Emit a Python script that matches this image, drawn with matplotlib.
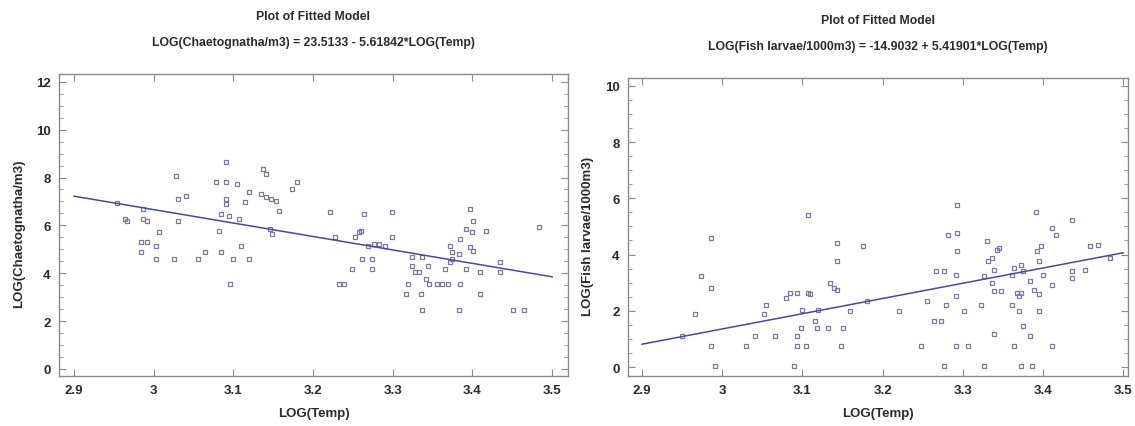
import numpy as np
import matplotlib
matplotlib.use("Agg")
import matplotlib.pyplot as plt
from matplotlib.ticker import MultipleLocator

plt.rcParams['font.family'] = ['Liberation Sans Narrow', 'Liberation Sans', 'DejaVu Sans']

# Chaetognatha vs temperature (log scale both)
chaet_x = [2.954, 2.964, 2.966, 2.987, 2.987, 2.991, 2.984, 2.984, 2.991, 3.003,
           3.007, 3.003, 3.028, 3.030, 3.041, 3.030, 3.025, 3.055, 3.064, 3.078,
           3.091, 3.091, 3.105, 3.091, 3.091, 3.085, 3.094, 3.107, 3.082, 3.085,
           3.100, 3.096, 3.110, 3.119, 3.114, 3.119, 3.137, 3.141, 3.135, 3.141,
           3.147, 3.153, 3.146, 3.148, 3.157, 3.173, 3.180, 3.221, 3.228, 3.233,
           3.239, 3.249, 3.253, 3.258, 3.260, 3.264, 3.262, 3.274, 3.274, 3.269,
           3.276, 3.283, 3.290, 3.299, 3.299, 3.317, 3.319, 3.324, 3.324, 3.328,
           3.333, 3.335, 3.337, 3.337, 3.344, 3.342, 3.346, 3.356, 3.362, 3.369,
           3.385, 3.365, 3.372, 3.374, 3.374, 3.383, 3.372, 3.383, 3.385, 3.392,
           3.399, 3.397, 3.401, 3.397, 3.401, 3.392, 3.410, 3.410, 3.417, 3.435,
           3.435, 3.451, 3.465, 3.483]
chaet_y = [6.93, 6.26, 6.20, 6.68, 6.26, 6.20, 5.29, 4.87, 5.29, 5.15,
           5.71, 4.59, 8.07, 7.10, 7.24, 6.20, 4.59, 4.59, 4.87, 7.80,
           8.63, 7.80, 7.73, 7.10, 6.89, 6.47, 6.40, 6.26, 5.78, 4.87,
           4.59, 3.55, 5.15, 4.59, 6.96, 7.38, 8.35, 8.14, 7.31, 7.17,
           7.10, 7.03, 5.85, 5.64, 6.61, 7.52, 7.80, 6.54, 5.50, 3.55,
           3.55, 4.18, 5.50, 5.71, 5.78, 6.47, 4.59, 4.59, 4.18, 5.15,
           5.22, 5.22, 5.15, 6.54, 5.50, 3.13, 3.55, 4.66, 4.32, 4.04,
           4.04, 3.13, 2.44, 4.66, 4.32, 3.76, 3.55, 3.55, 3.55, 3.55,
           3.55, 4.18, 4.46, 4.59, 4.87, 2.44, 5.15, 4.80, 5.43, 5.85,
           5.71, 6.68, 6.20, 5.08, 4.94, 4.18, 4.04, 3.13, 5.78, 4.46,
           4.04, 2.44, 2.44, 5.92]

# Fish larvae vs temperature
fish_x = [2.950, 2.966, 2.973, 2.986, 2.986, 2.986, 2.991, 3.030, 3.041, 3.052,
          3.055, 3.066, 3.080, 3.084, 3.093, 3.089, 3.093, 3.093, 3.098, 3.100,
          3.105, 3.107, 3.107, 3.109, 3.116, 3.118, 3.120, 3.132, 3.134, 3.139,
          3.143, 3.143, 3.143, 3.148, 3.150, 3.159, 3.175, 3.180, 3.221, 3.248,
          3.255, 3.264, 3.273, 3.266, 3.277, 3.277, 3.279, 3.282, 3.293, 3.293,
          3.293, 3.291, 3.291, 3.291, 3.302, 3.307, 3.323, 3.327, 3.327, 3.330,
          3.332, 3.336, 3.343, 3.345, 3.336, 3.339, 3.339, 3.339, 3.348, 3.361,
          3.364, 3.361, 3.364, 3.368, 3.370, 3.373, 3.370, 3.373, 3.375, 3.373,
          3.375, 3.384, 3.386, 3.384, 3.389, 3.391, 3.393, 3.398, 3.395, 3.395,
          3.395, 3.400, 3.411, 3.416, 3.411, 3.411, 3.436, 3.436, 3.436, 3.452,
          3.459, 3.468, 3.484]
fish_y = [1.10, 1.87, 3.23, 4.59, 2.81, 0.74, 0.04, 0.74, 1.10, 1.87,
          2.22, 1.10, 2.46, 2.64, 2.64, 0.04, 1.10, 0.74, 1.39, 2.04,
          0.74, 5.41, 2.64, 2.58, 1.63, 1.39, 2.04, 1.39, 2.99, 2.81,
          2.75, 4.41, 3.76, 0.74, 1.39, 1.99, 4.29, 2.34, 1.99, 0.74,
          2.34, 1.63, 1.63, 3.40, 3.40, 0.04, 2.22, 4.70, 4.76, 5.77,
          4.11, 3.29, 2.52, 0.74, 1.99, 0.74, 2.22, 0.04, 3.23, 4.47,
          3.76, 3.88, 4.17, 4.23, 2.99, 3.46, 2.70, 1.16, 2.70, 3.29,
          3.52, 2.22, 0.74, 2.64, 2.52, 2.64, 1.99, 3.64, 3.40, 0.04,
          1.45, 1.10, 0.04, 3.05, 2.75, 5.53, 4.11, 4.29, 3.76, 2.58,
          1.99, 3.29, 4.94, 4.70, 2.93, 0.74, 5.24, 3.40, 3.17, 3.46,
          4.29, 4.35, 3.88]

# fitted model coefficients: intercept, slope
chaet_fit = (23.5133, -5.61842)
fish_fit = (-14.9032, 5.41901)
fit_range = (2.9, 3.5)

panels = [
    dict(x=chaet_x, y=chaet_y, fit=chaet_fit,
         eq="LOG(Chaetognatha/m3) = 23.5133 - 5.61842*LOG(Temp)",
         ylabel="LOG(Chaetognatha/m3)",
         rect=[59 / 1135, 1 - 377 / 427, 509 / 1135, 302 / 427],
         xlim=(2.881, 3.52), ylim=(-0.3, 12.33), yticks=np.arange(0, 13, 2)),
    dict(x=fish_x, y=fish_y, fit=fish_fit,
         eq="LOG(Fish larvae/1000m3) = -14.9032 + 5.41901*LOG(Temp)",
         ylabel="LOG(Fish larvae/1000m3)",
         rect=[628 / 1135, 1 - 377 / 427, 500 / 1135, 298 / 427],
         xlim=(2.8825, 3.506), ylim=(-0.32, 10.28), yticks=np.arange(0, 11, 2)),
]

text_col = '#2a2a2a'
axis_col = '#8a8a8a'
point_col = '#7878a0'
line_col = '#4848a8'

fig = plt.figure(figsize=(11.35, 4.27), dpi=100)

for p in panels:
    ax = fig.add_axes(p['rect'])
    ax.plot(p['x'], p['y'], linestyle='none', marker='s', markersize=3.4,
            fillstyle='none', markeredgewidth=0.9, color=point_col)
    xs = np.linspace(fit_range[0], fit_range[1], 50)
    b0, b1 = p['fit']
    ax.plot(xs, b0 + b1 * xs, color=line_col, linewidth=1.1)

    ax.set_xlim(*p['xlim'])
    ax.set_ylim(*p['ylim'])
    ax.set_xticks([2.9, 3.0, 3.1, 3.2, 3.3, 3.4, 3.5])
    ax.set_xticklabels(['2.9', '3', '3.1', '3.2', '3.3', '3.4', '3.5'])
    ax.set_yticks(p['yticks'])
    ax.yaxis.set_minor_locator(MultipleLocator(0.5))
    ax.tick_params(which='both', direction='in', top=True, right=True,
                   color=axis_col, labelcolor=text_col, labelsize=9.5)
    ax.tick_params(which='major', length=5, width=0.8, pad=6)
    ax.tick_params(which='minor', length=3, width=0.6)
    for lab in ax.get_xticklabels() + ax.get_yticklabels():
        lab.set_fontweight('bold')
    for s in ax.spines.values():
        s.set_color(axis_col)
        s.set_linewidth(1.0)

    bb = ax.get_position()
    cx = (bb.x0 + bb.x1) / 2
    fig.text(cx, bb.y1 + 58 / 427, "Plot of Fitted Model", ha='center', va='center',
             fontsize=8.8, fontweight='bold', color=text_col)
    fig.text(cx, bb.y1 + 32 / 427, p['eq'], ha='center', va='center',
             fontsize=8.8, fontweight='bold', color=text_col)
    fig.text(cx, 1 - 414 / 427, "LOG(Temp)", ha='center', va='center',
             fontsize=9.5, fontweight='bold', color=text_col)
    fig.text(bb.x0 - 40 / 1135, (bb.y0 + bb.y1) / 2 - 8 / 427, p['ylabel'],
             rotation=90, ha='center', va='center',
             fontsize=9.5, fontweight='bold', color=text_col)

fig.savefig("out.png", dpi=100)
